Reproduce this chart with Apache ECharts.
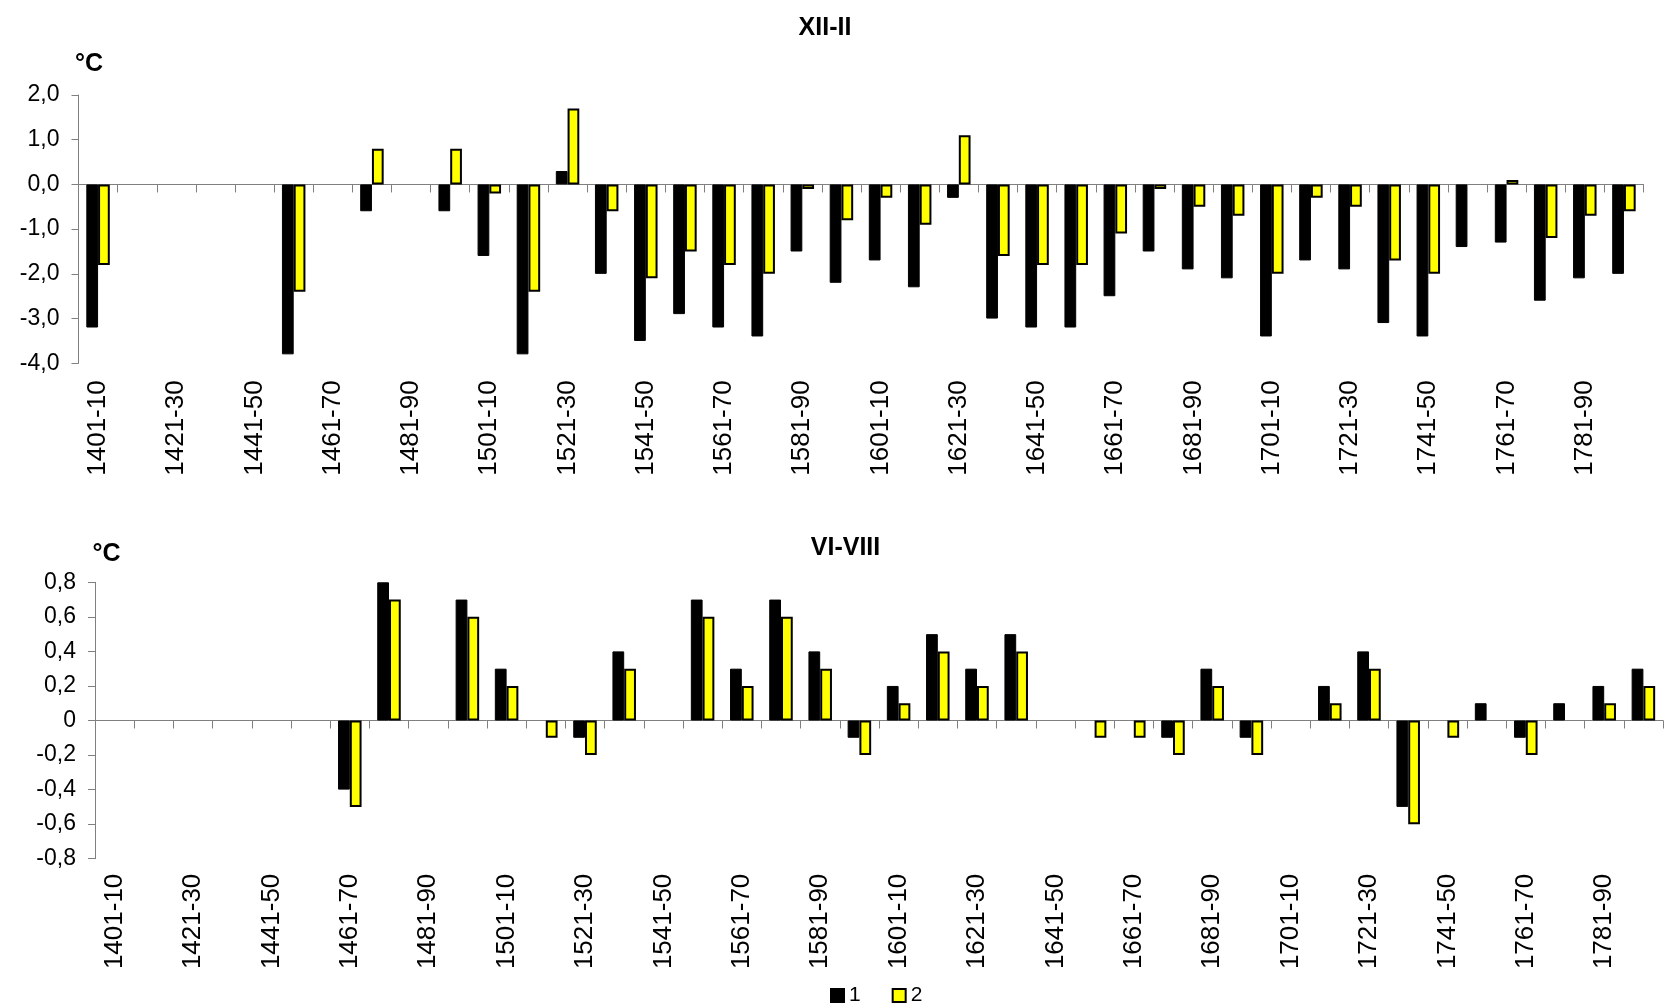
<!DOCTYPE html>
<html>
<head>
<meta charset="utf-8">
<script src="https://cdn.jsdelivr.net/npm/echarts@6/dist/echarts.min.js"></script>
<style>
  html, body { margin: 0; padding: 0; background: #ffffff; }
  #chart { width: 1671px; height: 1008px; }
</style>
</head>
<body>
<div id="chart"></div>
<script>
// Decades, 1401-1800
const decades = [
  '1401-10', '1411-20', '1421-30', '1431-40', '1441-50', '1451-60', '1461-70', '1471-80', '1481-90', '1491-1500',
  '1501-10', '1511-20', '1521-30', '1531-40', '1541-50', '1551-60', '1561-70', '1571-80', '1581-90', '1591-1600',
  '1601-10', '1611-20', '1621-30', '1631-40', '1641-50', '1651-60', '1661-70', '1671-80', '1681-90', '1691-1700',
  '1701-10', '1711-20', '1721-30', '1731-40', '1741-50', '1751-60', '1761-70', '1771-80', '1781-90', '1791-1800'
];

// Winter (XII-II) anomalies, °C
const winter1 = [
  -3.2, null, null, null, null, -3.8, null, -0.6, null, -0.6,
  -1.6, -3.8, 0.3, -2.0, -3.5, -2.9, -3.2, -3.4, -1.5, -2.2,
  -1.7, -2.3, -0.3, -3.0, -3.2, -3.2, -2.5, -1.5, -1.9, -2.1,
  -3.4, -1.7, -1.9, -3.1, -3.4, -1.4, -1.3, -2.6, -2.1, -2.0
];
const winter2 = [
  -1.8, null, null, null, null, -2.4, null, 0.8, null, 0.8,
  -0.2, -2.4, 1.7, -0.6, -2.1, -1.5, -1.8, -2.0, -0.1, -0.8,
  -0.3, -0.9, 1.1, -1.6, -1.8, -1.8, -1.1, -0.1, -0.5, -0.7,
  -2.0, -0.3, -0.5, -1.7, -2.0, null, 0.1, -1.2, -0.7, -0.6
];

// Summer (VI-VIII) anomalies, °C
const summer1 = [
  null, null, null, null, null, null, -0.4, 0.8, null, 0.7,
  0.3, null, -0.1, 0.4, null, 0.7, 0.3, 0.7, 0.4, -0.1,
  0.2, 0.5, 0.3, 0.5, null, null, null, -0.1, 0.3, -0.1,
  null, 0.2, 0.4, -0.5, null, 0.1, -0.1, 0.1, 0.2, 0.3
];
const summer2 = [
  null, null, null, null, null, null, -0.5, 0.7, null, 0.6,
  0.2, -0.1, -0.2, 0.3, null, 0.6, 0.2, 0.6, 0.3, -0.2,
  0.1, 0.4, 0.2, 0.4, null, -0.1, -0.1, -0.2, 0.2, -0.2,
  null, 0.1, 0.3, -0.6, -0.1, null, -0.2, null, 0.1, 0.2
];

// Value-axis ranges
const winterAxis = { min: -4, max: 2, step: 1 };
const summerAxis = { min: -0.8, max: 0.8, step: 0.2 };

const seriesNames = ['1', '2'];
const panelTitles = ['XII-II', 'VI-VIII'];
const unitLabel = '°C';

const FONT = '"Liberation Sans", Arial, sans-serif';
const AXIS_GREY = '#808080';

const comma = v => v.toFixed(1).replace('.', ',');
const commaZero = v => (Math.abs(v) < 1e-9 ? '0' : comma(v));

function tickAxis(gridIndex) {
  return {
    type: 'category', gridIndex, data: decades, position: 'bottom', boundaryGap: true,
    axisLine: { show: true, onZero: true, lineStyle: { color: AXIS_GREY, width: 1 } },
    axisTick: { show: true, inside: false, length: 8, interval: 0, lineStyle: { color: AXIS_GREY, width: 1 } },
    axisLabel: { show: false },
    splitLine: { show: false }
  };
}

function labelAxis(gridIndex, margin) {
  return {
    type: 'category', gridIndex, data: decades, position: 'bottom', boundaryGap: true,
    axisLine: { show: false, onZero: false },
    axisTick: { show: false },
    axisLabel: {
      show: true, rotate: 90, interval: 1, margin,
      fontSize: 26, color: '#000', fontFamily: FONT
    },
    splitLine: { show: false }
  };
}

function valueAxis(gridIndex, range, formatter) {
  return {
    type: 'value', gridIndex, min: range.min, max: range.max, interval: range.step,
    axisLine: { show: true, onZero: false, lineStyle: { color: AXIS_GREY, width: 1 } },
    axisTick: { show: true, inside: false, length: 7, lineStyle: { color: AXIS_GREY, width: 1 } },
    axisLabel: { show: true, margin: 19, fontSize: 23, color: '#000', fontFamily: FONT, formatter },
    splitLine: { show: false }
  };
}

function barSeries(name, xIndex, yIndex, data, fill, borderWidth) {
  return {
    name, type: 'bar', xAxisIndex: xIndex, yAxisIndex: yIndex, data,
    barGap: '0%', barCategoryGap: '40%',
    itemStyle: { color: fill, borderColor: '#000', borderWidth },
    emphasis: { disabled: true },
    animation: false
  };
}

function textEl(text, x, y, size) {
  return {
    type: 'text', x, y, silent: true,
    style: {
      text, align: 'center', verticalAlign: 'middle',
      font: 'bold ' + size + 'px ' + FONT, fill: '#000'
    }
  };
}

const chart = echarts.init(document.getElementById('chart'), null, { renderer: 'canvas' });

chart.setOption({
  backgroundColor: '#ffffff',
  animation: false,
  textStyle: { fontFamily: FONT, color: '#000' },
  grid: [
    { left: 78.5, top: 95, width: 1565, height: 268.3, containLabel: false, outerBoundsMode: 'none' },
    { left: 95, top: 582.3, width: 1568, height: 276.4, containLabel: false, outerBoundsMode: 'none' }
  ],
  xAxis: [
    tickAxis(0),
    labelAxis(0, 17),
    tickAxis(1),
    labelAxis(1, 15)
  ],
  yAxis: [
    valueAxis(0, winterAxis, comma),
    valueAxis(1, summerAxis, commaZero)
  ],
  legend: {
    data: seriesNames,
    left: 825, top: 980, padding: 5,
    icon: 'rect', itemWidth: 13, itemHeight: 13, itemGap: 31,
    textStyle: { fontSize: 21, color: '#000', fontFamily: FONT },
    selectedMode: false
  },
  graphic: [
    textEl(panelTitles[0], 825, 28, 25),
    textEl(unitLabel, 89, 64, 25),
    textEl(panelTitles[1], 845.5, 548, 25),
    textEl(unitLabel, 106.5, 554, 25)
  ],
  series: [
    barSeries(seriesNames[0], 0, 0, winter1, '#000000', 1),
    barSeries(seriesNames[1], 0, 0, winter2, '#ffff00', 2),
    barSeries(seriesNames[0], 2, 1, summer1, '#000000', 1),
    barSeries(seriesNames[1], 2, 1, summer2, '#ffff00', 2)
  ]
});
</script>
</body>
</html>
